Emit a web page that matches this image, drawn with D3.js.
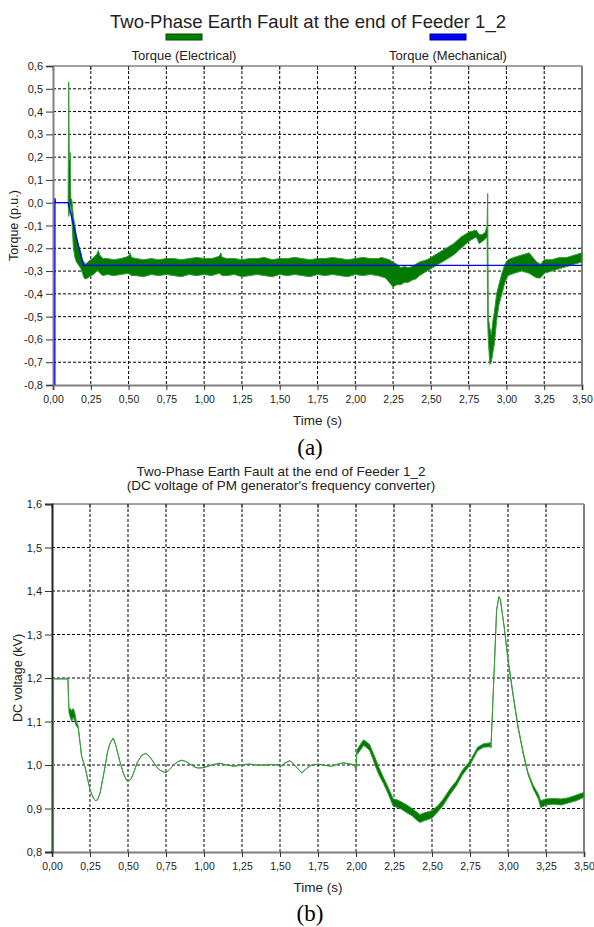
<!DOCTYPE html>
<html>
<head>
<meta charset="utf-8">
<script src="https://cdn.jsdelivr.net/npm/d3@7"></script>
<style>
  body { margin: 0; background: #fff; }
  text { font-family: "Liberation Sans", Arial, sans-serif; fill: #222; }
  .serif { font-family: "Liberation Serif", "Times New Roman", serif; fill: #000; }
</style>
</head>
<body>
<script>
// Tick values for both charts
const timeTicks = [0, 0.25, 0.5, 0.75, 1, 1.25, 1.5, 1.75, 2, 2.25, 2.5, 2.75, 3, 3.25, 3.5];
const torqueTicks = [0.6, 0.5, 0.4, 0.3, 0.2, 0.1, 0, -0.1, -0.2, -0.3, -0.4, -0.5, -0.6, -0.7, -0.8];
const voltageTicks = [1.6, 1.5, 1.4, 1.3, 1.2, 1.1, 1.0, 0.9, 0.8];

// Mechanical torque (blue)
const mechTime   = [0.012, 0.013, 0.016, 0.10, 0.20, 3.50];
const mechTorque = [-0.80, 0.02, 0.00, 0.00, -0.275, -0.275];

// Electrical torque (green), read as a low/high envelope of the noisy trace
const elecTime = [0.100, 0.104, 0.108, 0.114, 0.118, 0.125, 0.135, 0.145, 0.155, 0.165, 0.175, 0.185, 0.195, 0.205, 0.215, 0.23,
  0.25, 0.27, 0.29, 0.30, 0.31, 0.33, 0.36, 0.40, 0.45, 0.50, 0.51, 0.52, 0.55, 0.60, 0.65, 0.70,
  0.75, 0.80, 0.85, 0.90, 0.95, 1.00, 1.05, 1.10, 1.11, 1.12, 1.15, 1.20, 1.25, 1.30, 1.35, 1.40, 1.45, 1.50, 1.55, 1.60, 1.65, 1.70,
  1.75, 1.80, 1.85, 1.90, 1.95, 2.00, 2.05, 2.10, 2.15, 2.175, 2.20, 2.225, 2.25, 2.275, 2.30, 2.325, 2.35, 2.375, 2.40,
  2.425, 2.45, 2.475, 2.50, 2.55, 2.60, 2.65, 2.70, 2.75, 2.80, 2.82, 2.84, 2.86, 2.872, 2.876, 2.88, 2.89, 2.90, 2.91,
  2.92, 2.935, 2.95, 2.97, 2.99, 3.01, 3.05, 3.10, 3.15, 3.20, 3.225, 3.25, 3.30, 3.35, 3.40, 3.45, 3.50];
const elecLow = [0.00, -0.06, -0.04, -0.02, -0.01, -0.08, -0.20, -0.24, -0.26, -0.27, -0.28, -0.29, -0.31, -0.33, -0.335, -0.33,
  -0.32, -0.315, -0.30, -0.30, -0.31, -0.32, -0.315, -0.32, -0.315, -0.31, -0.315, -0.32, -0.32, -0.325, -0.315, -0.32,
  -0.315, -0.32, -0.325, -0.315, -0.32, -0.315, -0.32, -0.31, -0.315, -0.32, -0.32, -0.315, -0.325, -0.32, -0.315, -0.32, -0.325, -0.315, -0.32, -0.315, -0.32, -0.325,
  -0.315, -0.32, -0.315, -0.32, -0.325, -0.315, -0.32, -0.315, -0.32, -0.325, -0.33, -0.35, -0.37, -0.36, -0.36, -0.35, -0.35, -0.34, -0.335,
  -0.32, -0.31, -0.30, -0.29, -0.27, -0.25, -0.23, -0.20, -0.17, -0.15, -0.18, -0.17, -0.16, -0.15, -0.52, -0.60, -0.71, -0.70, -0.66,
  -0.62, -0.52, -0.45, -0.40, -0.35, -0.32, -0.31, -0.30, -0.31, -0.33, -0.33, -0.31, -0.30, -0.29, -0.28, -0.27, -0.26];
const elecHigh = [0.00, 0.53, 0.19, 0.22, 0.02, 0.01, -0.06, -0.10, -0.15, -0.18, -0.20, -0.22, -0.25, -0.26, -0.27, -0.26,
  -0.25, -0.24, -0.225, -0.21, -0.23, -0.245, -0.245, -0.25, -0.245, -0.235, -0.22, -0.24, -0.245, -0.25, -0.245, -0.25,
  -0.245, -0.245, -0.25, -0.245, -0.24, -0.245, -0.245, -0.235, -0.22, -0.24, -0.245, -0.245, -0.25, -0.245, -0.245, -0.24, -0.25, -0.245, -0.245, -0.24, -0.245, -0.25,
  -0.245, -0.245, -0.24, -0.245, -0.25, -0.245, -0.24, -0.245, -0.245, -0.24, -0.245, -0.25, -0.26, -0.27, -0.285, -0.28, -0.285, -0.28, -0.27,
  -0.26, -0.255, -0.25, -0.24, -0.22, -0.20, -0.18, -0.15, -0.13, -0.12, -0.14, -0.14, -0.13, -0.10, 0.04, -0.50, -0.55, -0.58, -0.52,
  -0.48, -0.40, -0.36, -0.31, -0.27, -0.25, -0.24, -0.23, -0.22, -0.26, -0.27, -0.25, -0.25, -0.24, -0.24, -0.23, -0.22];

// DC voltage (green), low/high envelope (equal where the trace is a clean line)
const dcTime = [0.008, 0.009, 0.105, 0.107, 0.112, 0.12, 0.13, 0.14, 0.15, 0.16, 0.172, 0.185, 0.195, 0.217, 0.25, 0.272, 0.285,
  0.30, 0.316, 0.335, 0.349, 0.365, 0.382, 0.403, 0.42, 0.445, 0.47, 0.49, 0.502, 0.52, 0.535, 0.56, 0.59, 0.618, 0.645, 0.667,
  0.69, 0.71, 0.75, 0.775, 0.80, 0.83, 0.855, 0.88, 0.908, 0.935, 0.96, 1.0, 1.05, 1.1, 1.15, 1.2, 1.25, 1.3, 1.35, 1.4, 1.45,
  1.49, 1.5, 1.53, 1.566, 1.6, 1.643, 1.675, 1.708, 1.75, 1.8, 1.84, 1.88, 1.915, 1.95, 1.99, 2.0, 2.005,
  2.01, 2.03, 2.05, 2.07, 2.09, 2.11, 2.13, 2.15, 2.18, 2.21, 2.245, 2.27, 2.30, 2.335, 2.37, 2.40, 2.42, 2.45, 2.50, 2.54,
  2.575, 2.62, 2.66, 2.70, 2.75, 2.80, 2.84, 2.885, 2.888, 2.895, 2.91, 2.925, 2.94, 2.95, 2.975, 3.0, 3.035, 3.066, 3.10,
  3.13, 3.165, 3.20, 3.215, 3.25, 3.30, 3.35, 3.40, 3.45, 3.50];
const dcLow = [0.80, 1.198, 1.198, 1.17, 1.12, 1.11, 1.10, 1.11, 1.10, 1.09, 1.085, 1.05, 1.02, 0.996, 0.943, 0.924, 0.918,
  0.92, 0.935, 0.97, 0.996, 1.03, 1.05, 1.062, 1.045, 1.01, 0.98, 0.965, 0.962, 0.968, 0.98, 1.005, 1.022, 1.027, 1.018, 1.007,
  0.995, 0.988, 0.982, 0.99, 1.0, 1.008, 1.011, 1.008, 1.002, 0.996, 0.993, 0.994, 1.0, 1.004, 1.0, 0.997, 1.001, 1.002, 1.0, 1.0, 1.001,
  1.0, 0.995, 1.004, 1.01, 0.998, 0.982, 0.992, 1.0, 1.002, 0.999, 0.997, 1.002, 1.005, 1.003, 1.0, 0.99, 1.03,
  1.025, 1.035, 1.045, 1.04, 1.033, 1.015, 0.995, 0.978, 0.958, 0.935, 0.905, 0.903, 0.898, 0.89, 0.883, 0.873, 0.868, 0.872, 0.878, 0.893,
  0.908, 0.933, 0.952, 0.977, 1.0, 1.033, 1.041, 1.042, 1.04, 1.10, 1.225, 1.356, 1.387, 1.38, 1.317, 1.24, 1.155, 1.085, 1.025,
  0.98, 0.946, 0.922, 0.902, 0.908, 0.91, 0.908, 0.913, 0.918, 0.926];
const dcHigh = [0.80, 1.198, 1.198, 1.17, 1.13, 1.13, 1.125, 1.13, 1.12, 1.10, 1.09, 1.05, 1.02, 0.996, 0.943, 0.924, 0.918,
  0.92, 0.935, 0.97, 0.996, 1.03, 1.05, 1.062, 1.045, 1.01, 0.98, 0.965, 0.962, 0.968, 0.98, 1.005, 1.022, 1.027, 1.018, 1.007,
  0.995, 0.988, 0.982, 0.99, 1.0, 1.008, 1.011, 1.008, 1.002, 0.996, 0.993, 0.994, 1.0, 1.004, 1.0, 0.997, 1.001, 1.002, 1.0, 1.0, 1.001,
  1.0, 0.995, 1.004, 1.01, 0.998, 0.982, 0.992, 1.0, 1.002, 0.999, 0.997, 1.002, 1.005, 1.003, 1.0, 0.99, 1.03,
  1.037, 1.048, 1.058, 1.053, 1.047, 1.03, 1.013, 0.995, 0.972, 0.95, 0.922, 0.92, 0.915, 0.908, 0.9, 0.892, 0.886, 0.89, 0.895, 0.907,
  0.922, 0.946, 0.963, 0.988, 1.009, 1.041, 1.049, 1.051, 1.04, 1.10, 1.225, 1.356, 1.387, 1.38, 1.317, 1.245, 1.16, 1.09, 1.03,
  0.985, 0.954, 0.933, 0.918, 0.922, 0.923, 0.922, 0.925, 0.931, 0.937];

// Comma decimal and plain hyphen minus, as in the picture
const locale = d3.formatLocale({ decimal: ",", thousands: ".", grouping: [3], currency: ["", ""], minus: "-" });
const fmtTime = locale.format(".2f");
const fmtOne = locale.format(".1f");

const svg = d3.select("body").append("svg")
    .attr("width", 594)
    .attr("height", 927);

svg.append("rect").attr("width", 594).attr("height", 927).attr("fill", "#fff");

function drawFrame(box, xScale, yScale, yTicks, yTitle, leftColor) {
    const g = svg.append("g");

    // dashed grid
    g.selectAll(".vgrid")
        .data(timeTicks.slice(1, -1))
        .enter().append("line")
        .attr("x1", d => xScale(d)).attr("x2", d => xScale(d))
        .attr("y1", box.top).attr("y2", box.bottom)
        .attr("stroke", "#000").attr("stroke-width", 1)
        .attr("stroke-dasharray", "3,2");

    g.selectAll(".hgrid")
        .data(yTicks.slice(1, -1))
        .enter().append("line")
        .attr("x1", box.left).attr("x2", box.right)
        .attr("y1", d => yScale(d)).attr("y2", d => yScale(d))
        .attr("stroke", "#000").attr("stroke-width", 1)
        .attr("stroke-dasharray", "3,2");

    // small ticks hanging from the top border
    g.selectAll(".ttick")
        .data(timeTicks)
        .enter().append("line")
        .attr("x1", d => xScale(d)).attr("x2", d => xScale(d))
        .attr("y1", box.top).attr("y2", box.top + 4)
        .attr("stroke", "#333");

    // frame
    g.append("line").attr("x1", box.left).attr("x2", box.right).attr("y1", box.top).attr("y2", box.top)
        .attr("stroke", "#444").attr("stroke-width", 1);
    g.append("line").attr("x1", box.right).attr("x2", box.right).attr("y1", box.top).attr("y2", box.bottom)
        .attr("stroke", "#808080").attr("stroke-width", 2);

    // x axis
    const xAxis = svg.append("g")
        .attr("transform", "translate(0," + box.bottom + ")")
        .call(d3.axisBottom(xScale).tickValues(timeTicks).tickFormat(fmtTime).tickSize(5).tickPadding(6));
    xAxis.select(".domain").attr("stroke", "#808080").attr("stroke-width", 2);
    xAxis.selectAll(".tick line").attr("stroke", "#333");
    xAxis.selectAll("text").attr("font-size", "10.5px").attr("fill", "#222")
        .style("font-family", "'Liberation Sans', Arial, sans-serif");

    // y axis
    const yAxis = svg.append("g")
        .attr("transform", "translate(" + box.left + ",0)")
        .call(d3.axisLeft(yScale).tickValues(yTicks).tickFormat(fmtOne).tickSize(7).tickPadding(3));
    yAxis.select(".domain").attr("stroke", leftColor).attr("stroke-width", 2);
    yAxis.selectAll(".tick line").attr("stroke", "#333");
    yAxis.selectAll("text").attr("font-size", "11px").attr("fill", "#222")
        .style("font-family", "'Liberation Sans', Arial, sans-serif");

    // axis titles
    svg.append("text")
        .attr("x", (box.left + box.right) / 2)
        .attr("y", box.bottom + 40)
        .attr("text-anchor", "middle")
        .attr("font-size", "13.5px")
        .text("Time (s)");

    svg.append("text")
        .attr("transform", "translate(" + box.titleX + "," + ((box.top + box.bottom) / 2) + ") rotate(-90)")
        .attr("text-anchor", "middle")
        .attr("font-size", "12.5px")
        .text(yTitle);
}

function drawBand(xScale, yScale, time, low, high, fill, stroke) {
    const data = time.map((t, i) => ({ t: t, lo: low[i], hi: high[i] }));
    const area = d3.area()
        .x(d => xScale(d.t))
        .y0(d => yScale(d.lo))
        .y1(d => yScale(d.hi));
    svg.append("path")
        .datum(data)
        .attr("fill", fill)
        .attr("stroke", stroke)
        .attr("stroke-width", 1)
        .attr("stroke-linejoin", "round")
        .attr("d", area);
}

// ---------- chart (a): torque ----------
const boxA = { left: 53, right: 582, top: 66, bottom: 385, titleX: 18 };
const xA = d3.scaleLinear().domain([0, 3.5]).range([boxA.left, boxA.right]);
const yA = d3.scaleLinear().domain([-0.8, 0.6]).range([boxA.bottom, boxA.top]);

drawFrame(boxA, xA, yA, torqueTicks, "Torque (p.u.)", "#808080");

drawBand(xA, yA, elecTime, elecLow, elecHigh, "#007a00", "#3a9c3a");

const mechData = mechTime.map((t, i) => ({ t: t, v: mechTorque[i] }));
svg.append("path")
    .datum(mechData)
    .attr("fill", "none")
    .attr("stroke", "#0000ff")
    .attr("stroke-width", 1.3)
    .attr("d", d3.line().x(d => xA(d.t)).y(d => yA(d.v)));

svg.append("text")
    .attr("x", 308).attr("y", 28)
    .attr("text-anchor", "middle")
    .attr("font-size", "18.5px")
    .attr("fill", "#000")
    .text("Two-Phase Earth Fault at the end of Feeder 1_2");

// legend
const legendItems = [
    { name: "Torque (Electrical)", color: "#007f00", border: "#004a00", cx: 184 },
    { name: "Torque (Mechanical)", color: "#0000ff", border: "#000080", cx: 448 }
];
legendItems.forEach(item => {
    svg.append("rect")
        .attr("x", item.cx - 18).attr("y", 34)
        .attr("width", 36).attr("height", 6)
        .attr("fill", item.color)
        .attr("stroke", item.border).attr("stroke-width", 1);
    svg.append("text")
        .attr("x", item.cx).attr("y", 60)
        .attr("text-anchor", "middle")
        .attr("font-size", "13px")
        .text(item.name);
});

svg.append("text").attr("class", "serif")
    .attr("x", 310).attr("y", 455)
    .attr("text-anchor", "middle")
    .attr("font-size", "23px")
    .text("(a)");

// ---------- chart (b): DC voltage ----------
const boxB = { left: 52, right: 584, top: 504, bottom: 852, titleX: 22 };
const xB = d3.scaleLinear().domain([0, 3.5]).range([boxB.left, boxB.right]);
const yB = d3.scaleLinear().domain([0.8, 1.6]).range([boxB.bottom, boxB.top]);

drawFrame(boxB, xB, yB, voltageTicks, "DC voltage (kV)", "#222");

drawBand(xB, yB, dcTime, dcLow, dcHigh, "#007a00", "#3a9c3a");

svg.append("text")
    .attr("x", 281).attr("y", 476)
    .attr("text-anchor", "middle")
    .attr("font-size", "13.5px")
    .text("Two-Phase Earth Fault at the end of Feeder 1_2");

svg.append("text")
    .attr("x", 281).attr("y", 490)
    .attr("text-anchor", "middle")
    .attr("font-size", "13.5px")
    .text("(DC voltage of PM generator's frequency converter)");

svg.append("text").attr("class", "serif")
    .attr("x", 310).attr("y", 921)
    .attr("text-anchor", "middle")
    .attr("font-size", "23px")
    .text("(b)");
</script>
</body>
</html>
